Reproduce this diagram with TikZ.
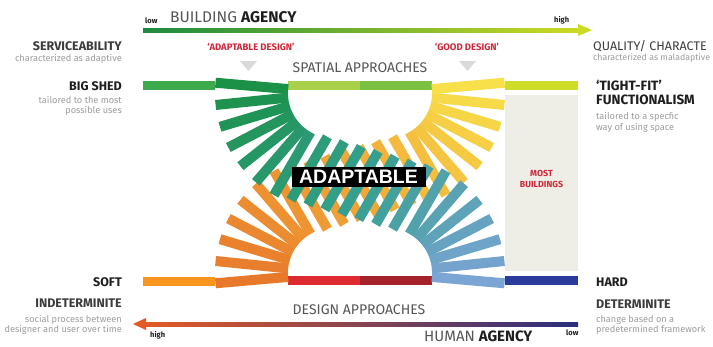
\documentclass[tikz,border=0pt]{standalone}
\usepackage{fontspec}
\setmainfont{Fira Sans}
\newfontfamily\boxfont{Liberation Sans}
\usetikzlibrary{calc}
\definecolor{gA}{HTML}{1B9148}
\definecolor{gB}{HTML}{35A08F}
\definecolor{gC}{HTML}{7BA5D5}
\definecolor{oA}{HTML}{E8792B}
\definecolor{oB}{HTML}{F2A837}
\definecolor{oC}{HTML}{F7E04A}
\definecolor{txtdark}{HTML}{1E1E1E}
\definecolor{txtgray}{HTML}{9C9C9C}
\definecolor{txtmid}{HTML}{3C3C3C}
\definecolor{txtlite}{HTML}{555555}
\definecolor{redlbl}{HTML}{D0283A}
\definecolor{boxgray}{HTML}{EEEDE6}
\definecolor{triangray}{HTML}{DADADA}
\definecolor{barLG}{HTML}{3DAA4B}
\definecolor{barLime}{HTML}{A8D048}
\definecolor{barGreen}{HTML}{7CC043}
\definecolor{barYG}{HTML}{CFDC28}
\definecolor{barOr}{HTML}{F7951E}
\definecolor{barRed}{HTML}{DD2A2E}
\definecolor{barDRed}{HTML}{A4232A}
\definecolor{barBlue}{HTML}{2A3B9B}
\definecolor{arGa}{HTML}{1C8A3E}
\definecolor{arGb}{HTML}{CDDA22}
\definecolor{arBa}{HTML}{E45A24}
\definecolor{arBb}{HTML}{B8273A}
\definecolor{arBc}{HTML}{2A2E7E}
\newcommand\mixcol[4]{%
  \ifnum#1<11\relax
    \pgfmathtruncatemacro\mypc{100-10*#1}\colorlet{cur}{#2!\mypc!#3}%
  \else
    \pgfmathtruncatemacro\mypc{100-10*(#1-10)}\colorlet{cur}{#3!\mypc!#4}%
  \fi}
\begin{document}
\begin{tikzpicture}[x=1pt,y=-1pt,
  fanbar/.style={line width=10pt},
  lblL/.style={anchor=base east, inner sep=0pt, font=\fontsize{12.5}{14}\selectfont\bfseries, text=txtmid},
  lblR/.style={anchor=base west, inner sep=0pt, font=\fontsize{12.5}{14}\selectfont\bfseries, text=txtmid},
  smallL/.style={anchor=base east, inner sep=0pt, font=\fontsize{9.2}{11}\selectfont, text=txtgray},
  smallR/.style={anchor=base west, inner sep=0pt, font=\fontsize{9.2}{11}\selectfont, text=txtgray},
  tiny/.style={inner sep=0pt, font=\fontsize{7.5}{9}\selectfont\bfseries, text=txtdark},
  redtag/.style={anchor=base, inner sep=0pt, font=\fontsize{9.5}{11}\selectfont\bfseries, text=redlbl},
  approach/.style={anchor=base, inner sep=0pt, font=\fontsize{14}{16}\selectfont, text=txtlite},
  agency/.style={anchor=base west, inner sep=0pt, font=\fontsize{15.5}{18}\selectfont, text=txtlite}
]
\useasboundingbox (0,0) rectangle (713,346);

% static bars
\fill[barLG] (143,81) rectangle (215,90);
\fill[barLime] (288,81) rectangle (360,90);
\fill[barGreen] (360,81) rectangle (432,90);
\fill[barYG] (505,81) rectangle (578,90);
\fill[boxgray] (505,95) rectangle (578,271);
\fill[barOr] (143,277) rectangle (215,286);
\fill[barRed] (288,276) rectangle (360,285);
\fill[barDRed] (360,276) rectangle (432,285);
\fill[barBlue] (505,276) rectangle (578,285);

% fan centres
\coordinate (Cg) at (333,93);
\coordinate (Cb) at (387,273);
\coordinate (Co) at (333,273);
\coordinate (Cy) at (387,93);
\coordinate (Ag) at ($(Cg)+(120:45)$);
\coordinate (Ab) at ($(Cb)+(-60:118)$);
\coordinate (Ao) at ($(Co)+(240:45)$);
\coordinate (Ay) at ($(Cy)+(60:118)$);

% orange -> yellow sequence
\foreach \i in {0,...,6}{
  \pgfmathsetmacro\ang{175+65*\i/6}
  \mixcol{\i}{oA}{oB}{oC}
  \draw[fanbar,cur] ($(Co)+(\ang:45)$) -- ($(Co)+(\ang:118)$);
}
\foreach \k in {1,...,7}{
  \pgfmathtruncatemacro\jj{6+\k}
  \mixcol{\jj}{oA}{oB}{oC}
  \draw[fanbar,cur] ($(Ao)!{\k/8}!(Ay)$) -- ++(240:73);
}
\foreach \i in {0,...,6}{
  \pgfmathsetmacro\ang{60-65*\i/6}
  \pgfmathtruncatemacro\jj{14+\i}
  \mixcol{\jj}{oA}{oB}{oC}
  \draw[fanbar,cur] ($(Cy)+(\ang:45)$) -- ($(Cy)+(\ang:118)$);
}
% green -> blue sequence
\foreach \i in {0,...,6}{
  \pgfmathsetmacro\ang{185-65*\i/6}
  \mixcol{\i}{gA}{gB}{gC}
  \draw[fanbar,cur] ($(Cg)+(\ang:45)$) -- ($(Cg)+(\ang:118)$);
}
\foreach \k in {1,...,7}{
  \pgfmathtruncatemacro\jj{6+\k}
  \mixcol{\jj}{gA}{gB}{gC}
  \draw[fanbar,cur] ($(Ag)!{\k/8}!(Ab)$) -- ++(120:73);
}
\foreach \i in {0,...,6}{
  \pgfmathsetmacro\ang{-60+65*\i/6}
  \pgfmathtruncatemacro\jj{14+\i}
  \mixcol{\jj}{gA}{gB}{gC}
  \draw[fanbar,cur] ($(Cb)+(\ang:45)$) -- ($(Cb)+(\ang:118)$);
}

% centre label
\node[fill=black, text=white, font=\boxfont\bfseries\fontsize{19.5}{20}\selectfont,
      minimum width=134pt, minimum height=20pt, inner sep=0pt] (adapt) at (358.5,176.7) {ADAPTABLE};

% top arrow
\coordinate (tl) at (143,30);
\coordinate (tr) at (592,30);
\shade[left color=arGa, right color=arGb] (143,28) rectangle (580,32);
\fill[arGb] (578,24) -- (tr) -- (578,36) -- cycle;
\node[tiny, anchor=base west] (lowt) at (145,23) {low};
\node[agency] (bag) at (170,22.5) {BUILDING {\color{txtdark}\bfseries AGENCY}};
\node[tiny, anchor=base west] (hight) at (554,22.5) {high};

% bottom arrow
\coordinate (bl) at (133,324);
\shade[left color=arBa, middle color=arBb, right color=arBc] (143,322) rectangle (578,326);
\fill[arBa] (146,318) -- (bl) -- (146,330) -- cycle;
\node[tiny, anchor=base west] (highb) at (150,337) {high};
\node[tiny, anchor=base west] (lowb) at (566,335) {low};
\node[agency, font=\fontsize{15}{18}\selectfont] (hag) at (424,341.5) {HUMAN {\color{txtdark}\bfseries AGENCY}};

% design tags
\node[redtag] (adtag) at (251,50) {`ADAPTABLE DESIGN'};
\node[redtag] (gdtag) at (467,50) {`GOOD DESIGN'};
\fill[triangray] (240,61) -- (257,61) -- (248.5,71) -- cycle;
\fill[triangray] (459,61) -- (476,61) -- (467.5,71) -- cycle;
\node[approach] (spat) at (360,72) {SPATIAL APPROACHES};
\node[approach] (desg) at (359,314) {DESIGN APPROACHES};

% most buildings
\node[inner sep=0pt, font=\fontsize{8.8}{11}\selectfont\bfseries, text=redlbl, align=center] (most) at (541.5,178.5) {MOST\\BUILDINGS};

% left labels
\node[lblL] (serv) at (122,50.5) {SERVICEABILITY};
\node[smallL] (servs) at (122,61) {characterized as adaptive};
\node[lblL, text=txtdark] (big) at (122,90) {BIG SHED};
\node[smallL] (bigs1) at (122,103) {tailored to the most};
\node[smallL] (bigs2) at (122,113.5) {possible uses};
\node[lblL, text=txtdark] (soft) at (122,286) {SOFT};
\node[lblL] (indet) at (122,307) {INDETERMINITE};
\node[smallL] (ind1) at (122,322) {social process between};
\node[smallL] (ind2) at (122,332) {designer and user over time};

% right labels
\node[lblR, font=\fontsize{12.5}{15}\selectfont] (qual) at (593,50) {QUALITY/ CHARACTE};
\node[smallR, font=\fontsize{8.8}{11}\selectfont] (quals) at (593,60.5) {characterized as maladaptive};
\node[lblR, text=txtdark, font=\fontsize{13.5}{15}\selectfont\bfseries] (tight) at (596,90) {`TIGHT-FIT'};
\node[lblR, text=txtdark, font=\fontsize{13.5}{15}\selectfont\bfseries] (func) at (596,104) {FUNCTIONALISM};
\node[smallR] (tf1) at (596,119) {tailored to a specfic};
\node[smallR] (tf2) at (596,130) {way of using space};
\node[lblR, text=txtdark] (hard) at (596,286) {HARD};
\node[lblR] (det) at (596,308) {DETERMINITE};
\node[smallR] (det1) at (596,322) {change based on a};
\node[smallR] (det2) at (596,332) {predetermined framework};
\end{tikzpicture}
\end{document}
